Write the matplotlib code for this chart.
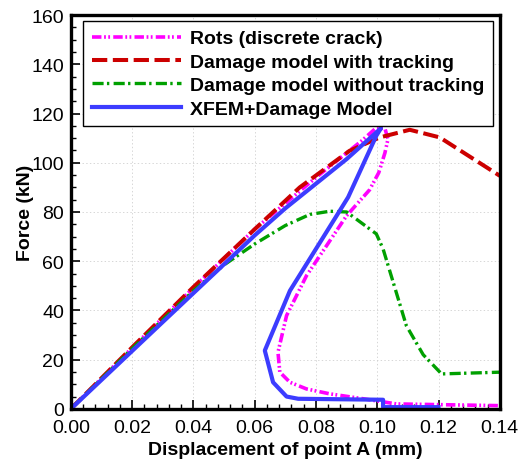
import numpy as np
import matplotlib
matplotlib.use('Agg')
import matplotlib.pyplot as plt
from matplotlib.ticker import MultipleLocator

plt.rcParams['font.family'] = ['Liberation Sans', 'DejaVu Sans']
plt.rcParams['lines.scale_dashes'] = False

# Rots (discrete crack)
rots_x = [0.0, 0.02, 0.04, 0.06, 0.08, 0.095, 0.0995, 0.1025, 0.1035, 0.1025, 0.1005,
          0.0975, 0.09, 0.0769, 0.0704, 0.0676, 0.0682, 0.0715, 0.0769, 0.0845, 0.0954,
          0.1063, 0.14]
rots_y = [0.0, 24.8, 49.2, 73.0, 94.0, 109.0, 114.0, 114.0, 109.6, 104.0, 96.0,
          89.0, 78.5, 54.1, 37.9, 23.0, 14.9, 10.8, 8.1, 6.1, 4.1,
          2.0, 1.3]

# Damage model with tracking
track_x = [0.0, 0.02, 0.04, 0.06, 0.0747, 0.091, 0.1008, 0.1106, 0.1204, 0.14]
track_y = [0.0, 25.0, 49.5, 73.0, 90.0, 104.9, 110.3, 113.4, 110.3, 94.7]

# Damage model without tracking
notrack_x = [0.0, 0.02, 0.04, 0.05, 0.06, 0.07, 0.078, 0.0845, 0.09, 0.0997, 0.1019,
             0.1095, 0.115, 0.121, 0.14]
notrack_y = [0.0, 24.5, 48.0, 58.5, 67.0, 74.5, 79.0, 80.3, 80.0, 71.1, 65.0,
             33.8, 22.0, 14.2, 14.9]

# XFEM+Damage Model
xfem_x = [0.0, 0.03, 0.06, 0.07, 0.08, 0.09, 0.1012, 0.0997, 0.0905, 0.0715, 0.0633,
          0.066, 0.0704, 0.0742, 0.1019, 0.1019, 0.12]
xfem_y = [0.0, 35.3, 70.5, 81.5, 91.5, 101.5, 114.0, 111.0, 86.0, 48.0, 23.7,
          10.8, 5.0, 4.1, 3.7, 0.7, 0.7]

fig = plt.figure(figsize=(5.25, 4.6), dpi=100)
ax = fig.add_axes([0.135, 0.109, 0.817, 0.856])

ax.plot(rots_x, rots_y, color='#ff00ff', lw=2.6,
        dashes=(6.8, 1.9, 1.3, 1.7, 1.3, 2.3), label='Rots (discrete crack)')
ax.plot(track_x, track_y, color='#cc0000', lw=2.9,
        dashes=(11, 4), label='Damage model with tracking')
ax.plot(notrack_x, notrack_y, color='#00a000', lw=2.4,
        dashes=(8, 2.4, 1.7, 3.1), label='Damage model without tracking')
ax.plot(xfem_x, xfem_y, color='#3c3cff', lw=3.0, label='XFEM+Damage Model')

ax.set_xlim(0, 0.14)
ax.set_ylim(0, 160)
ax.xaxis.set_major_locator(MultipleLocator(0.02))
ax.xaxis.set_minor_locator(MultipleLocator(0.004))
ax.yaxis.set_major_locator(MultipleLocator(20))
ax.yaxis.set_minor_locator(MultipleLocator(5))
ax.xaxis.set_major_formatter(plt.FuncFormatter(lambda v, p: f'{v:.2f}'))

ax.tick_params(which='both', direction='in', top=False, right=False, labelsize=14)
ax.tick_params(which='major', length=6.5, width=1.2, pad=5)
ax.tick_params(axis='x', which='major', pad=7)
ax.tick_params(which='minor', length=3.6, width=1.0)
for s in ax.spines.values():
    s.set_linewidth(2.4)

ax.grid(True, which='major', linestyle=':', color='#d0d0d0', linewidth=0.6)
ax.set_axisbelow(True)

ax.set_xlabel('Displacement of point A (mm)', fontsize=14, fontweight='bold', labelpad=4)
ax.set_ylabel('Force (kN)', fontsize=14, fontweight='bold', labelpad=-2)

leg = ax.legend(loc='upper left', bbox_to_anchor=(0.028, 0.985), borderaxespad=0,
                prop={'size': 14, 'weight': 'bold'}, handlelength=4.6,
                handletextpad=0.45, labelspacing=0.3, borderpad=0.45,
                fancybox=False, framealpha=1, edgecolor='black')
leg.get_frame().set_linewidth(1.0)

fig.savefig('out.png', dpi=100)
